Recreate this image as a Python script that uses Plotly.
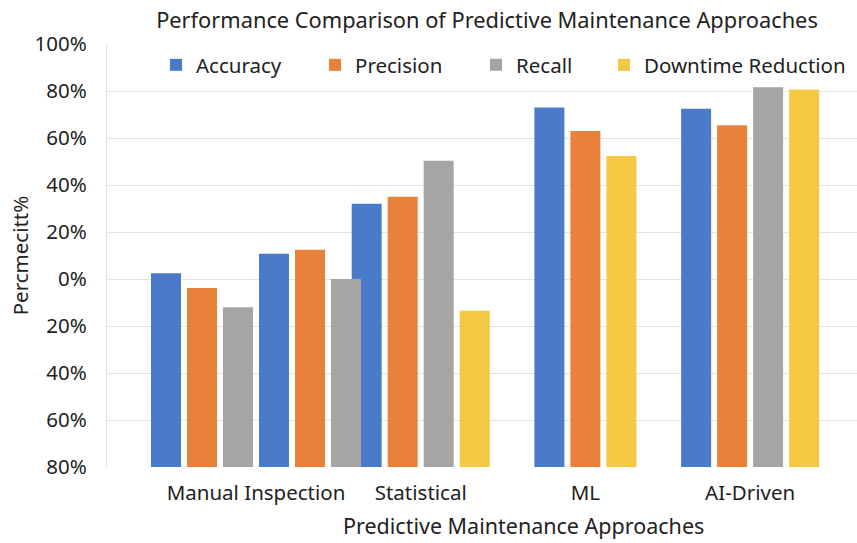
import plotly.graph_objects as go

categories = ["Manual Inspection", "Statistical", "ML", "AI-Driven"]
series_names = ["Accuracy", "Precision", "Recall", "Downtime Reduction"]
accuracy = [2.4, 32.0, 73.0, 72.4]
precision = [-3.8, 35.0, 63.0, 65.4]
recall = [-12.0, 50.3, None, 81.6]
downtime = [None, -13.5, 52.3, 80.6]
# Manual Inspection shows a second Accuracy / Precision / Recall trio
manual_second = {"Accuracy": 10.7, "Precision": 12.4, "Recall": 0.0}

y_ticks = [-80, -60, -40, -20, 0, 20, 40, 60, 80, 100]
y_tick_labels = ["80%", "60%", "40%", "20%", "0%", "20%", "40%", "60%", "80%", "100%"]

colors = {"Accuracy": "#4A7BC8", "Precision": "#E8823A", "Recall": "#A5A5A5",
          "Downtime Reduction": "#F5C843"}
FONT = "Noto Sans"
TXT = "#222222"
BASE = -80
UNIT_PX = 164.7
BAR_W = 30 / UNIT_PX
STEP = 36 / UNIT_PX

values = {"Accuracy": accuracy, "Precision": precision, "Recall": recall,
          "Downtime Reduction": downtime}

# build slot lists per category
slots = {c: [] for c in categories}
for i, c in enumerate(categories):
    for s in series_names:
        if values[s][i] is not None:
            slots[c].append((s, values[s][i], True))
    if c == "Manual Inspection":
        for s, v in manual_second.items():
            slots[c].append((s, v, False))

fig = go.Figure()
legend_ids = {"Accuracy": "legend", "Precision": "legend2", "Recall": "legend3",
              "Downtime Reduction": "legend4"}
for s in series_names:
    for primary in (True, False):
        xs, ys, offs = [], [], []
        for c in categories:
            n = len(slots[c])
            for k, (name, v, prim) in enumerate(slots[c]):
                if name == s and prim == primary:
                    xs.append(c)
                    ys.append(v - BASE)
                    offs.append((k - (n - 1) / 2) * STEP - BAR_W / 2)
        if not xs:
            continue
        fig.add_trace(go.Bar(
            x=xs, y=ys, base=BASE, offset=offs, width=BAR_W, name=s,
            marker=dict(color=colors[s], line=dict(width=0)),
            showlegend=primary, legend=legend_ids[s],
            hovertemplate="%{x}: %{customdata}%<extra>" + s + "</extra>",
            customdata=[y + BASE for y in ys],
        ))

legend_x_px = {"legend": 156, "legend2": 315, "legend3": 476, "legend4": 604}
leg_common = dict(orientation="h", yanchor="middle", y=1 - (65 - 44) / 423,
                  xanchor="left", bgcolor="rgba(0,0,0,0)",
                  font=dict(family=FONT, size=20.5, color=TXT))
legends = {k: dict(leg_common, x=(px - 107) / 750) for k, px in legend_x_px.items()}

fig.update_layout(
    width=857, height=543,
    margin=dict(l=107, r=0, t=44, b=76, autoexpand=False),
    paper_bgcolor="white", plot_bgcolor="white",
    font=dict(family=FONT, color=TXT),
    title=dict(text="Performance Comparison of Predictive Maintenance Approaches",
               x=487 / 857, xref="container", xanchor="center",
               y=1 - 20 / 543, yref="container", yanchor="middle",
               font=dict(family=FONT, size=21.8, color=TXT)),
    barmode="overlay",
    legend=legends["legend"], legend2=legends["legend2"],
    legend3=legends["legend3"], legend4=legends["legend4"],
    xaxis=dict(type="category", categoryorder="array", categoryarray=categories,
               range=[(107 - 256) / UNIT_PX, (857 - 256) / UNIT_PX],
               automargin=False,
               showgrid=False, showline=False, ticks="", ticklabelstandoff=11,
               tickfont=dict(family=FONT, size=20.5, color=TXT)),
    yaxis=dict(range=[-80, 100], tickvals=y_ticks, ticktext=y_tick_labels,
               automargin=False,
               showgrid=True, gridcolor="#E3E3E3", gridwidth=1.3, zeroline=False,
               showline=True, linecolor="#E3E3E3", linewidth=1.3, ticks="",
               ticklabelstandoff=15,
               tickfont=dict(family=FONT, size=20.5, color=TXT),
               title=dict(text="Percmecitt%",
                          font=dict(family=FONT, size=20.5, color=TXT), standoff=0)),
    annotations=[dict(text="Predictive Maintenance Approaches",
                      xref="paper", x=(523 - 107) / 750, xanchor="center",
                      yref="paper", y=-(525 - 467) / 423, yanchor="middle",
                      showarrow=False, font=dict(family=FONT, size=21.5, color=TXT))],
)

fig.write_html("out.html", config={"displayModeBar": False},
               post_script="document.body.style.margin='0';")
